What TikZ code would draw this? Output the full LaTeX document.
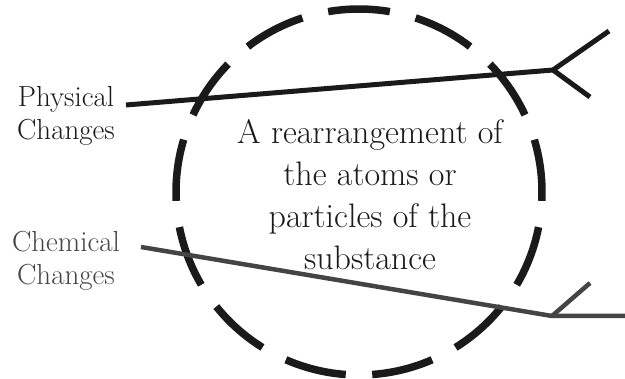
\documentclass[tikz,border=0pt]{standalone}
\usepackage{fontspec}
\usetikzlibrary{calc}
\definecolor{inkdark}{HTML}{1A1A1A}
\definecolor{inkgray}{HTML}{444444}
\begin{document}
\begin{tikzpicture}[x=1pt,y=-1pt,
  ring/.style={draw=inkdark,line width=7.5pt},
  physline/.style={draw=inkdark,line width=5pt,line cap=butt,line join=miter},
  chemline/.style={draw=inkgray,line width=4.5pt,line cap=butt,line join=miter},
  lbl/.style={inner sep=0pt,align=center,font=\fontsize{29}{33}\selectfont},
  centertext/.style={inner sep=0pt,align=center,font=\fontsize{34}{42.3}\selectfont,text=inkdark}]
\useasboundingbox (0,0) rectangle (625,379);
\coordinate (ctr) at (359,192);
\foreach \i in {0,...,12}{
  \pgfmathsetmacro{\a}{-(90+27.692*\i)}
  \draw[ring] ($(ctr)+({\a+9.7}:183)$) arc[start angle=\a+9.7,end angle=\a-9.7,radius=183];
}
\node[centertext,anchor=base] (body) at (370,270) {A rearrangement of\\the atoms or\\particles of the\\substance};
\node[lbl,text=inkdark,anchor=base] (phys) at (66,140) {Physical\\Changes};
\node[lbl,text=inkgray,anchor=base] (chem) at (66,285) {Chemical\\Changes};
\coordinate (p0) at (126,105);
\coordinate (pj) at (553,70);
\coordinate (pu) at (609,31);
\coordinate (pd) at (590,97);
\draw[physline] (p0) -- (pj);
\draw[physline] (pu) -- (pj) -- (pd);
\coordinate (c0) at (141,247);
\coordinate (cj) at (552,316);
\coordinate (cu) at (590,283);
\coordinate (ce) at (625,316);
\draw[chemline] (c0) -- (cj) -- (ce);
\draw[chemline] (cu) -- (cj);
\end{tikzpicture}
\end{document}
